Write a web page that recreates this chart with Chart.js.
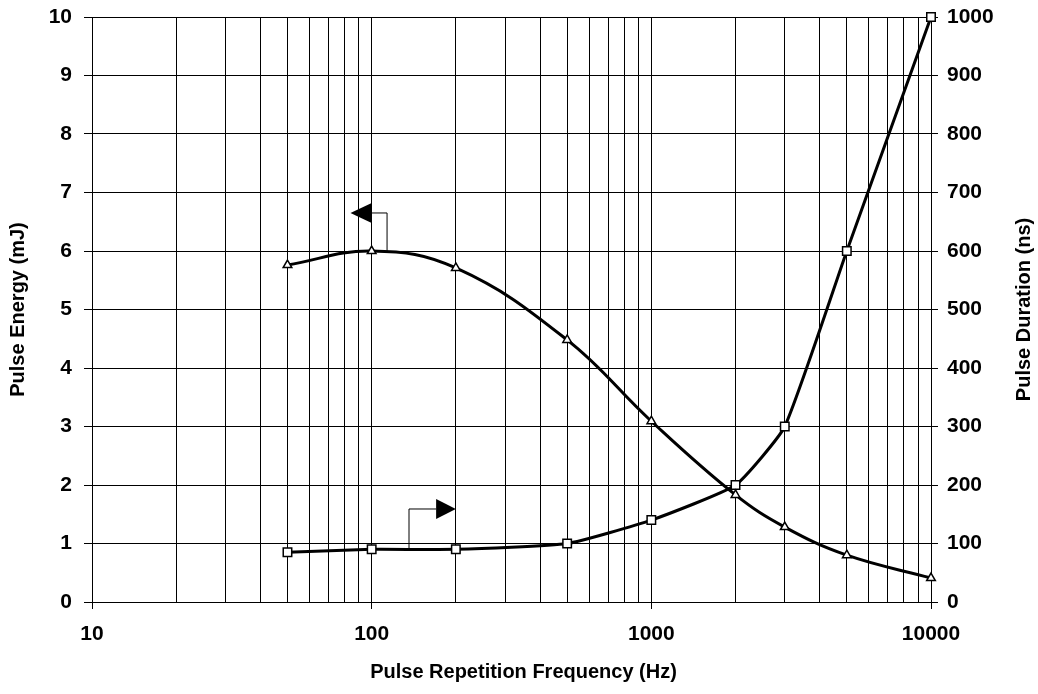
<!DOCTYPE html>
<html lang="en">
<head>
<meta charset="UTF-8" />
<title>Pulse Energy / Pulse Duration vs PRF</title>
<script src="https://cdn.jsdelivr.net/npm/chart.js"></script>
<style>
  html, body { margin: 0; padding: 0; background: #fff; }
  #wrap { position: relative; width: 1038px; height: 694px; }
</style>
</head>
<body>
<div id="wrap"><canvas id="myChart"></canvas></div>
<script>
  // data
  var frequency = [50, 100, 200, 500, 1000, 2000, 3000, 5000, 10000];
  var energy = [5.76, 6.0, 5.71, 4.48, 3.09, 1.83, 1.28, 0.8, 0.41];
  var duration = [85, 90, 90, 100, 140, 200, 300, 600, 1000];
  var xLabels = [10, 100, 1000, 10000];
  var xGrid = [10, 20, 30, 40, 50, 60, 70, 80, 90,
               100, 200, 300, 400, 500, 600, 700, 800, 900,
               1000, 2000, 3000, 4000, 5000, 6000, 7000, 8000, 9000, 10000];

  // arrows, in data units (x = Hz, y = mJ)
  var energyArrow = { tip: 84, base: 100, elbow: 113.5, y: 6.65, to: 5.98 };
  var durationArrow = { stem: 136, base: 170, tip: 200, y: 1.59, from: 0.92 };

  var FONT = "'Liberation Sans', Arial, sans-serif";
  var tickFont = { family: FONT, size: 21, weight: "bold" };

  function pairs(xs, ys) {
    return xs.map(function (v, i) { return { x: v, y: ys[i] }; });
  }

  function drawTitle(ctx, text, x, y, rot) {
    ctx.save();
    ctx.fillStyle = "#000";
    ctx.font = "bold 20px " + FONT;
    ctx.textAlign = "center";
    ctx.textBaseline = "middle";
    ctx.translate(x, y);
    if (rot) ctx.rotate(rot);
    ctx.fillText(text, 0, 0);
    ctx.restore();
  }

  var extras = {
    id: "extras",
    afterDatasetsDraw: function (chart) {
      var ctx = chart.ctx;
      var sx = chart.scales.x;
      var sy = chart.scales.y;
      ctx.save();
      ctx.strokeStyle = "#000";
      ctx.fillStyle = "#000";
      ctx.lineWidth = 1;

      // arrow pointing to the left axis
      var tip = sx.getPixelForValue(energyArrow.tip);
      var base = sx.getPixelForValue(energyArrow.base);
      var elbow = sx.getPixelForValue(energyArrow.elbow);
      var ay = sy.getPixelForValue(energyArrow.y);
      var by = sy.getPixelForValue(energyArrow.to);
      ctx.beginPath();
      ctx.moveTo(base, ay);
      ctx.lineTo(elbow, ay);
      ctx.lineTo(elbow, by);
      ctx.stroke();
      ctx.beginPath();
      ctx.moveTo(tip, ay);
      ctx.lineTo(base, ay - 10);
      ctx.lineTo(base, ay + 10);
      ctx.closePath();
      ctx.fill();

      // arrow pointing to the right axis
      var stem = sx.getPixelForValue(durationArrow.stem);
      base = sx.getPixelForValue(durationArrow.base);
      tip = sx.getPixelForValue(durationArrow.tip);
      ay = sy.getPixelForValue(durationArrow.y);
      by = sy.getPixelForValue(durationArrow.from);
      ctx.beginPath();
      ctx.moveTo(stem, by);
      ctx.lineTo(stem, ay);
      ctx.lineTo(base, ay);
      ctx.stroke();
      ctx.beginPath();
      ctx.moveTo(tip, ay);
      ctx.lineTo(base, ay - 10);
      ctx.lineTo(base, ay + 10);
      ctx.closePath();
      ctx.fill();
      ctx.restore();
    },
    afterDraw: function (chart) {
      var a = chart.chartArea;
      var mid = (a.top + a.bottom) / 2;
      drawTitle(chart.ctx, "Pulse Repetition Frequency (Hz)", (a.left + a.right) / 2 + 12, 672, 0);
      drawTitle(chart.ctx, "Pulse Energy (mJ)", 18, mid, -Math.PI / 2);
      drawTitle(chart.ctx, "Pulse Duration (ns)", 1024, mid, -Math.PI / 2);
    }
  };

  new Chart(document.getElementById("myChart"), {
    type: "line",
    data: {
      datasets: [
        {
          label: "Pulse Energy",
          data: pairs(frequency, energy),
          yAxisID: "y",
          clip: false,
          borderColor: "#000",
          borderWidth: 3,
          tension: 0.4,
          pointStyle: "triangle",
          pointRadius: 5,
          pointBorderWidth: 1.5,
          pointBorderColor: "#000",
          pointBackgroundColor: "#fff"
        },
        {
          label: "Pulse Duration",
          data: pairs(frequency, duration),
          yAxisID: "y1",
          clip: false,
          borderColor: "#000",
          borderWidth: 3,
          tension: 0.15,
          pointStyle: "rect",
          pointRadius: 6,
          pointBorderWidth: 1.5,
          pointBorderColor: "#000",
          pointBackgroundColor: "#fff"
        }
      ]
    },
    options: {
      responsive: true,
      maintainAspectRatio: false,
      animation: false,
      layout: { padding: { top: 17, left: 0, right: 0, bottom: 0 } },
      plugins: {
        legend: { display: false },
        tooltip: { enabled: false }
      },
      scales: {
        x: {
          type: "logarithmic",
          min: 10,
          max: 10000,
          afterBuildTicks: function (s) {
            s.ticks = xGrid.map(function (v) { return { value: v, major: xLabels.indexOf(v) >= 0 }; });
          },
          ticks: {
            autoSkip: false,
            maxRotation: 0,
            padding: 13,
            color: "#000",
            font: tickFont,
            // empty string keeps the grid line of the minor ticks
            callback: function (v) {
              return xLabels.indexOf(v) >= 0 ? String(v) : "";
            }
          },
          grid: {
            color: "#000",
            lineWidth: 1,
            tickLength: 7,
            tickColor: function (c) {
              return c.tick && xLabels.indexOf(c.tick.value) >= 0 ? "#000" : "rgba(0,0,0,0)";
            }
          },
          border: { color: "#000", width: 1 },
          afterFit: function (s) { s.height = 92; }
        },
        y: {
          position: "left",
          min: 0,
          max: 10,
          ticks: { stepSize: 1, padding: 12, color: "#000", font: tickFont },
          grid: { color: "#000", lineWidth: 1, tickLength: 8 },
          border: { color: "#000", width: 1 },
          afterFit: function (s) { s.width = 92; s.paddingTop = 0; s.paddingBottom = 0; }
        },
        y1: {
          position: "right",
          min: 0,
          max: 1000,
          ticks: {
            stepSize: 100, padding: 9, color: "#000", font: tickFont,
            callback: function (v) { return String(v); }
          },
          grid: { drawOnChartArea: false, color: "#000", tickLength: 7 },
          border: { color: "#000", width: 1 },
          afterFit: function (s) { s.width = 107; s.paddingTop = 0; s.paddingBottom = 0; }
        }
      }
    },
    plugins: [extras]
  });
</script>
</body>
</html>
